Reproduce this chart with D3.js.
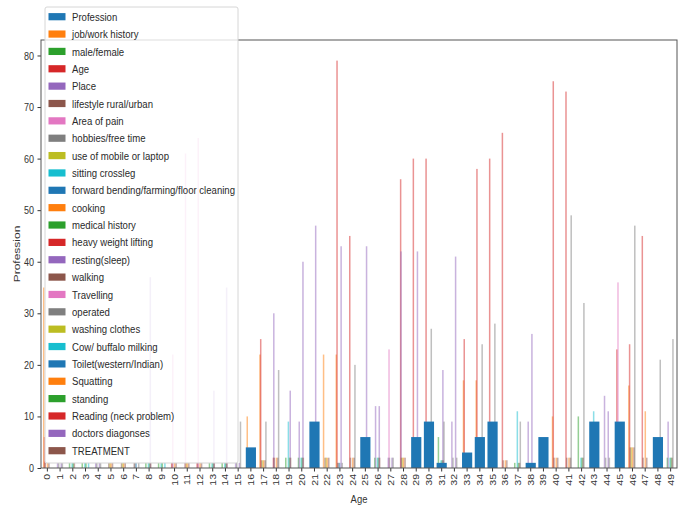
<!DOCTYPE html>
<html><head><meta charset="utf-8">
<script src="https://cdn.jsdelivr.net/npm/d3@7"></script>
<style>body{margin:0;background:#fff}svg{display:block}</style>
</head><body><svg id="c" width="685" height="507"></svg>
<script>
const categories = [0,1,2,3,4,5,6,7,8,9,10,11,12,13,14,15,16,17,18,19,20,21,22,23,24,25,26,27,28,29,30,31,32,33,34,35,36,37,38,39,40,41,42,43,44,45,46,47,48,49];
const yTicks = [0,10,20,30,40,50,60,70,80];
const seriesNames = ["Profession","job/work history","male/female","Age","Place","lifestyle rural/urban","Area of pain","hobbies/free time","use of mobile or laptop","sitting crossleg","forward bending/farming/floor cleaning","cooking","medical history","heavy weight lifting","resting(sleep)","walking","Travelling","operated","washing clothes","Cow/ buffalo milking","Toilet(western/Indian)","Squatting","standing","Reading (neck problem)","doctors diagonses","TREATMENT"];

const profession   = [0,0,0,0,0,0,0,0,0,0, 0,0,0,0,0,0,4,0,0,0, 0,9,0,0,0,6,0,0,0,6, 9,1,0,3,6,9,0,0,1,6, 0,0,0,9,0,9,0,0,6,0];
const jobWork      = [35,0,0,0,0,0,0,0,0,0, 0,0,0,0,0,0,10,22,0,0, 0,0,22,22,0,0,0,0,0,0, 0,0,0,17,17,0,0,0,0,0, 10,0,0,0,0,0,16,0,0,0];
const maleFemale   = [0,0,1,1,0,0,0,0,1,1, 0,0,0,1,1,0,0,0,0,2, 2,0,0,0,0,0,2,0,0,0, 0,6,0,0,0,0,0,1,0,0, 0,0,10,0,0,0,0,0,0,2];
const age          = [6,0,0,0,0,0,0,0,0,0, 1,0,1,0,0,0,0,25,2,0, 0,0,0,79,45,0,0,0,56,60, 60,0,0,25,58,60,65,0,0,0, 75,73,0,0,0,23,24,45,0,0];
const place        = [0,1,0,0,1,0,0,0,0,0, 0,0,0,0,0,1,0,0,30,0, 9,0,0,0,0,0,12,2,42,0, 0,0,9,0,0,0,0,0,9,0, 0,0,0,0,14,0,0,0,0,9];
const lifestyle    = [1,0,0,0,0,1,1,1,0,0, 1,1,1,0,0,0,0,1.5,2,0, 0,0,2,1,2,0,0,0,2,0, 0,0,0,0,0,0,1.5,0,0,0, 2,2,0,0,0,0,4,2,0,0];
const areaOfPain   = [0,0,0,0,0,0,0,0,0,0, 22,61,64,0,0,0,0,0,0,0, 0,0,0,0,0,0,0,23,0,0, 0,0,0,0,0,0,0,0,0,0, 0,0,0,0,0,36,0,0,0,0];
const hobbies      = [0,1,0,0,1,0,0,1,0,0, 0,0,0,0,0,1,0,0,0,0, 0,0,0,1,0,0,0,2,0,0, 0,0,2,0,0,0,0,0,0,0, 0,0,0,0,2,0,0,0,0,0];
const mobile       = [0,0,0,0,0,1,1,0,0,0, 0,1,0,0,0,0,0,1.5,0,0, 0,0,2,0,0,0,0,0,2,0, 0,0,0,0,0,0,0,0,0,0, 0,0,0,0,0,0,4,0,0,0];
const sitting      = [0,0,1,1,0,0,0,0,1,1, 0,0,0,1,1,0,0,0,0,9, 2,0,0,0,0,0,2,0,0,0, 0,1.5,0,0,0,0,0,11,0,0, 0,0,2,11,0,0,0,0,0,2];
const forwardBend  = [0,0,0,0,0,0,0,1,0,0, 0,0,0,0,0,0,0,0,0,0, 0,0,0,1,0,0,0,0,0,0, 0,0,0,0,0,0,0,0,0,0, 0,0,0,0,0,0,0,0,0,0];
const cooking      = [1,0,0,0,0,1,1,0,0,0, 1,1,1,0,0,0,0,1.5,2,0, 0,0,2,0,2,0,0,0,2,0, 0,0,0,0,0,0,1.5,0,0,0, 2,2,0,0,0,0,4,11,0,0];
const medical      = [0,0,1,1,0,0,0,0,1,1, 0,0,0,1,1,0,0,0,0,2, 2,0,0,0,0,0,2,0,0,0, 0,1.5,0,0,0,0,0,1,0,0, 0,0,2,0,0,0,0,0,0,2];
const heavyWeight  = [0,0,0,0,0,0,0,0,0,0, 0,0,0,0,0,0,0,0,0,0, 0,0,0,0,0,0,0,0,0,0, 0,0,0,0,0,0,0,0,0,0, 0,0,0,0,0,0,0,0,0,0];
const resting      = [0,1,0,0,1,0,0,0,37,0, 0,0,0,15,35,1,0,0,0,15, 40,47,0,43,0,43,12,2,0,42, 0,19,41,0,0,0,0,0,26,0, 0,0,0,0,11,0,0,0,0,0];
const walking      = [1,0,1,0,0,1,1,0,1,0, 1,1,1,1,1,0,0,1.5,2,2, 2,0,2,0,2,0,2,0,2,0, 0,1.5,0,0,0,0,1.5,1,0,0, 2,2,2,0,0,0,4,2,0,2];
const travelling   = [0,0,0,0,0,0,0,0,0,0, 0,0,0,0,0,0,0,0,0,0, 0,0,0,0,0,0,0,0,0,0, 0,0,0,0,0,0,0,0,0,0, 0,0,0,0,0,0,0,0,0,0];
const operated     = [0,1,0,0,1,0,0,1,0,0, 0,0,0,0,0,9,0,9,19,0, 0,0,0,1,20,0,0,2,0,0, 27,9,2,0,24,28,0,9,0,0, 0,49,32,0,2,0,47,0,21,25];
const washing      = [0,0,0,0,0,0,0,0,0,0, 0,0,0,0,0,0,0,0,0,0, 0,0,0,0,0,0,0,0,0,0, 0,0,0,0,0,0,0,0,0,0, 0,0,0,0,0,0,0,0,0,0];
const cowMilking   = [0,0,0,1,0,0,0,0,0,1, 0,0,0,0,0,0,0,0,0,0, 0,0,0,0,0,0,0,0,0,0, 0,0,0,0,0,0,0,0,0,0, 0,0,0,0,0,0,0,0,0,0];
const toilet       = [0,0,0,0,0,0,0,0,0,0, 0,0,0,0,0,0,0,0,0,0, 0,0,0,0,0,0,0,0,0,0, 0,0,0,0,0,0,0,0,0,0, 0,0,0,0,0,0,0,0,0,0];
const squatting    = [0,0,0,0,0,0,0,0,0,0, 0,0,0,0,0,0,0,0,0,0, 0,0,0,0,0,0,0,0,0,0, 0,0,0,0,0,0,0,0,0,0, 0,0,0,0,0,0,0,0,0,0];
const standing     = [0,0,0,0,0,0,0,0,0,0, 0,0,0,0,0,0,0,0,0,0, 0,0,0,0,0,0,0,0,0,0, 0,0,0,0,0,0,0,0,0,0, 0,0,0,0,0,0,0,0,0,0];
const reading      = [0,0,0,0,0,0,0,0,0,0, 0,0,0,0,0,0,0,0,0,0, 0,0,0,0,0,0,0,0,0,0, 0,0,0,0,0,0,0,0,0,0, 0,0,0,0,0,0,0,0,0,0];
const doctors      = [0,0,0,0,0,0,0,0,0,0, 0,0,0,0,0,0,0,0,0,0, 0,0,0,0,0,0,0,0,0,0, 0,0,0,0,0,0,0,0,0,0, 0,0,0,0,0,0,0,0,0,0];
const treatment    = [0,0,0,0,0,0,0,0,0,0, 0,0,0,0,0,0,0,0,0,0, 0,0,0,0,0,0,0,0,0,0, 0,0,0,0,0,0,0,0,0,0, 0,0,0,0,0,0,0,0,0,0];

const otherSeries = [jobWork, maleFemale, age, place, lifestyle, areaOfPain, hobbies, mobile, sitting, forwardBend, cooking, medical, heavyWeight, resting, walking, travelling, operated, washing, cowMilking, toilet, squatting, standing, reading, doctors, treatment];

const svg = d3.select("#c");
const L = 41, R = 677, T = 40, B = 468;
const SX = 0.82; // horizontal squeeze of text in the reference
const color = d3.scaleOrdinal().domain(seriesNames).range(seriesNames.map((d,i)=>d3.schemeCategory10[i%10]));

const x = d3.scaleBand().domain(categories).range([L, R]).padding(0);
const y = d3.scaleLinear().domain([0, 83]).range([B, T]);
const bw = x.bandwidth();
const inner = d3.scaleBand().domain(seriesNames.slice(1)).range([0.2*bw, 0.93*bw]);

// thin dodged bars
const thin = [];
otherSeries.forEach((arr, j) => {
  const name = seriesNames[j+1];
  arr.forEach((v, i) => { if (v > 0) thin.push({name, cat: categories[i], v}); });
});
const lw = 1.5;
svg.append("g").selectAll("rect").data(thin).join("rect")
  .attr("x", d => x(d.cat) + inner(d.name) + inner.bandwidth()/2 - lw/2)
  .attr("width", lw)
  .attr("y", d => y(d.v))
  .attr("height", d => y(0) - y(d.v))
  .attr("fill", d => color(d.name))
  .attr("fill-opacity", 0.5);

// Profession bars
svg.append("g").selectAll("rect").data(categories.map((c,i)=>({cat:c, v:profession[i]})).filter(d=>d.v>0)).join("rect")
  .attr("x", d => x(d.cat) + bw*0.1)
  .attr("width", bw*0.8)
  .attr("y", d => y(d.v))
  .attr("height", d => y(0) - y(d.v))
  .attr("fill", color("Profession"));

// axes
const font = '"Liberation Sans",Arial,sans-serif';
const gy = svg.append("g").attr("transform", `translate(${L},0)`)
  .call(d3.axisLeft(y).tickValues(yTicks).tickSize(3.5).tickPadding(3.5).tickFormat(d3.format("d")));
gy.select(".domain").remove();
gy.selectAll("text").attr("font-family", font).attr("font-size", 11).attr("fill", "#333")
  .attr("x", 0).attr("transform", `translate(-7,0) scale(${SX},1)`);
gy.selectAll("line").attr("stroke", "#333");

const gx = svg.append("g").attr("transform", `translate(0,${B})`)
  .call(d3.axisBottom(x).tickSize(3.5).tickPadding(0));
gx.select(".domain").remove();
gx.selectAll("line").attr("stroke", "#333");
gx.selectAll("text")
  .attr("font-family", font).attr("font-size", 10.5).attr("fill", "#333")
  .attr("text-anchor", "end")
  .attr("transform", `translate(0,6) scale(${SX},1) rotate(-90)`)
  .attr("x", 0).attr("y", 0).attr("dy", "0.35em");

// spines
svg.append("rect").attr("x", L).attr("y", T).attr("width", R-L).attr("height", B-T)
  .attr("fill", "none").attr("stroke", "#555").attr("stroke-width", 1);

// axis labels
svg.append("text").attr("transform", `translate(${(L+R)/2},503) scale(${SX},1)`).attr("text-anchor", "middle")
  .attr("font-family", font).attr("font-size", 11.5).attr("fill", "#333").text("Age");
svg.append("text").attr("transform", `translate(20,${(T+B)/2}) scale(${SX},1) rotate(-90)`).attr("text-anchor", "middle")
  .attr("font-family", font).attr("font-size", 12).attr("fill", "#333").text("Profession");

// legend
const lg = svg.append("g");
const step = 17.36;
lg.append("rect").attr("x", 45).attr("y", 7).attr("width", 193).attr("height", 456).attr("rx", 2)
  .attr("fill", "#fff").attr("fill-opacity", 0.8).attr("stroke", "#d6d6d6");
const items = lg.selectAll("g.item").data(seriesNames).join("g").attr("class","item")
  .attr("transform", (d,i) => `translate(0,${16.7 + i*step})`);
items.append("rect").attr("x", 48.5).attr("y", -3.6).attr("width", 17).attr("height", 7.2).attr("fill", d => color(d));
items.append("text").attr("transform", `translate(72,0) scale(${SX},1)`).attr("dy", "0.35em")
  .attr("font-family", font).attr("font-size", 11.7).attr("fill", "#2a2a2a").text(d => d);
</script></body></html>
